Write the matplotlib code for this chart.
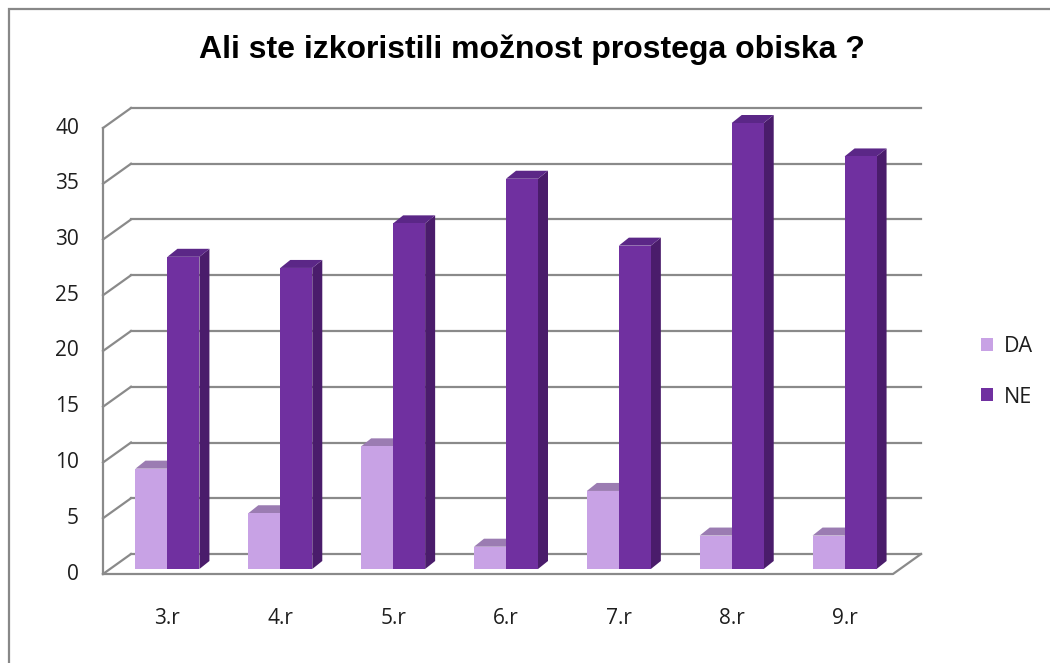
import matplotlib
matplotlib.use("Agg")
import matplotlib.pyplot as plt
from matplotlib.patches import Polygon, Rectangle

categories = ["3.r", "4.r", "5.r", "6.r", "7.r", "8.r", "9.r"]
da = [9, 5, 11, 2, 7, 3, 3]
ne = [28, 27, 31, 35, 29, 40, 37]
yticks = [0, 5, 10, 15, 20, 25, 30, 35, 40]

W, H = 1050, 663
fig = plt.figure(figsize=(W / 100, H / 100), dpi=100)

# front plane of the pseudo-3D box, in pixels
left, right, bottom, top = 103, 893, 574, 128
ax = fig.add_axes([left / W, 1 - bottom / H, (right - left) / W, (bottom - top) / H])
ax.set_xlim(-0.5, len(categories) - 0.5)
ax.set_ylim(0, 40)
ax.axis("off")

ppx = (right - left) / len(categories)   # pixels per category
ppy = (bottom - top) / 40.0              # pixels per unit

grid_c = "#8a8a8a"
txt_c = "#1e1e1e"
wall_dx, wall_dy = 28 / ppx, 20 / ppy    # back wall offset
bar_dx, bar_dy = 8 / ppx, 5 / ppy        # bars sit a little behind the front
dep_dx, dep_dy = 10 / ppx, 8 / ppy       # bar depth
bw = 32 / ppx

x0, x1 = -0.5, len(categories) - 0.5
# back wall gridlines and left wall diagonals
for v in yticks:
    ax.plot([x0 + wall_dx, x1 + wall_dx], [v + wall_dy, v + wall_dy],
            color=grid_c, lw=1.6, zorder=1, clip_on=False)
    ax.plot([x0, x0 + wall_dx], [v, v + wall_dy], color=grid_c, lw=1.6,
            zorder=1, clip_on=False)
    ax.text(x0 - 24 / ppx, v, str(v), ha="right", va="center", fontsize=15,
            family="Open Sans", color=txt_c)
ax.plot([x0, x0], [0, 40], color=grid_c, lw=1.6, zorder=1, clip_on=False)
# floor front edge and right edge
ax.plot([x0, x1, x1 + wall_dx], [0, 0, wall_dy], color=grid_c, lw=1.6,
        zorder=1, clip_on=False)

def bar3d(xl, h, front, side, topc, label=None):
    xa = xl + bar_dx
    xb = xa + bw
    y0 = bar_dy
    y1 = bar_dy + h
    ax.add_patch(Polygon([(xb, y0), (xb + dep_dx, y0 + dep_dy),
                          (xb + dep_dx, y1 + dep_dy), (xb, y1)],
                         closed=True, facecolor=side, edgecolor="none",
                         zorder=3, clip_on=False))
    ax.add_patch(Polygon([(xa, y1), (xb, y1), (xb + dep_dx, y1 + dep_dy),
                          (xa + dep_dx, y1 + dep_dy)], closed=True,
                         facecolor=topc, edgecolor="none", zorder=3,
                         clip_on=False))
    r = Rectangle((xa, y0), bw, h, facecolor=front, edgecolor="none",
                  zorder=4, clip_on=False, label=label)
    ax.add_patch(r)
    return r

h_da = h_ne = None
for i, lab in enumerate(categories):
    r1 = bar3d(i - bw, da[i], "#c8a2e5", "#8e6aa8", "#9b7cb2")
    r2 = bar3d(i, ne[i], "#7030a0", "#4a1c6b", "#5b2787")
    if i == 0:
        h_da, h_ne = r1, r2
    ax.text(i + bar_dx, -44 / ppy, lab, ha="center", va="center",
            fontsize=15, family="Open Sans", color=txt_c)

fig.text(532 / W, 1 - 50 / H, "Ali ste izkoristili možnost prostega obiska ?",
         ha="center", va="center", fontsize=23, fontweight="bold",
         family="Liberation Sans")

leg = fig.legend([h_da, h_ne], ["DA", "NE"], loc="center left",
                 bbox_to_anchor=(962 / W, 1 - 372 / H), frameon=False,
                 prop={"family": "Open Sans", "size": 15.5},
                 handlelength=0.55, handleheight=0.55, handletextpad=0.5,
                 labelspacing=1.35)
for t in leg.get_texts():
    t.set_color(txt_c)

# chart border
fig.patches.append(Rectangle((9 / W, -0.1), 1.2, 1 - 9 / H + 0.1,
                             transform=fig.transFigure, fill=False,
                             edgecolor="#888888", lw=1.6))

fig.savefig("out.png", dpi=100)
